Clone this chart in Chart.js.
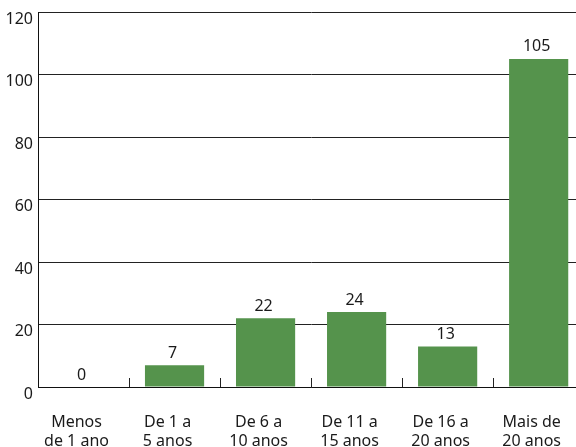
<!DOCTYPE html>
<html>
<head>
<meta charset="utf-8">
<script src="https://cdn.jsdelivr.net/npm/chart.js@4/dist/chart.umd.min.js"></script>
<style>
  html, body { margin: 0; padding: 0; background: #fff; overflow: hidden; }
  #wrap { width: 586px; height: 447px; }
</style>
</head>
<body>
<div id="wrap"><canvas id="grafico" width="586" height="447"></canvas></div>
<script>
const categorias = [
    ["Menos", "de 1 ano"],
    ["De 1 a", "5 anos"],
    ["De 6 a", "10 anos"],
    ["De 11 a", "15 anos"],
    ["De 16 a", "20 anos"],
    ["Mais de", "20 anos"]
];
const valores = [0, 7, 22, 24, 13, 105];
const ticksY = [0, 20, 40, 60, 80, 100, 120];

const corBarra = "#55934c";
const fonte = "'Noto Sans', 'Open Sans', sans-serif";

// rótulos de valor e marcas entre categorias
const extras = {
    id: "extras",
    afterDatasetsDraw(chart) {
        const ctx = chart.ctx;
        const x = chart.scales.x;
        const y = chart.scales.y;
        const meta = chart.getDatasetMeta(0);
        const passo = x.getPixelForValue(1) - x.getPixelForValue(0);

        ctx.save();
        ctx.strokeStyle = "#222";
        ctx.lineWidth = 1;
        for (let i = 1; i < categorias.length; i++) {
            const px = Math.round(x.getPixelForValue(i) - passo / 2) + 0.5;
            ctx.beginPath();
            ctx.moveTo(px, y.bottom);
            ctx.lineTo(px, y.bottom - 9);
            ctx.stroke();
        }

        ctx.fillStyle = "#1a1a1a";
        ctx.font = "16px " + fonte;
        ctx.textAlign = "center";
        ctx.textBaseline = "middle";
        meta.data.forEach((barra, i) => {
            ctx.fillText(String(valores[i]), barra.x - 2, barra.y - 12);
        });
        ctx.restore();
    }
};

new Chart(document.getElementById("grafico").getContext("2d"), {
    type: "bar",
    data: {
        labels: categorias,
        datasets: [{
            data: valores,
            backgroundColor: corBarra,
            borderWidth: 0,
            barPercentage: 0.65,
            categoryPercentage: 1
        }]
    },
    options: {
        responsive: false,
        animation: false,
        layout: { padding: { top: 12, right: 0, bottom: 0, left: 0 } },
        plugins: {
            legend: { display: false },
            tooltip: { enabled: false },
            title: { display: false }
        },
        scales: {
            x: {
                grid: { display: false },
                border: { display: true, color: "#111", width: 1 },
                ticks: {
                    color: "#1a1a1a",
                    font: { family: fonte, size: 16, lineHeight: 1.2 },
                    padding: 18,
                    labelOffset: -7,
                    maxRotation: 0,
                    autoSkip: false
                },
                afterFit(scale) { scale.height = 60; }
            },
            y: {
                min: 0,
                max: 120,
                afterBuildTicks(scale) {
                    scale.ticks = ticksY.map(v => ({ value: v }));
                },
                grid: {
                    color: "#222",
                    lineWidth: 1,
                    drawTicks: false
                },
                border: { display: true, color: "#111", width: 1 },
                ticks: {
                    color: "#1a1a1a",
                    font: { family: fonte, size: 16 },
                    padding: 5,
                    labelOffset: 7
                },
                afterFit(scale) {
                    scale.width = 38;
                    scale.paddingTop = 0;
                    scale.paddingBottom = 0;
                }
            }
        }
    },
    plugins: [extras]
});
</script>
</body>
</html>
